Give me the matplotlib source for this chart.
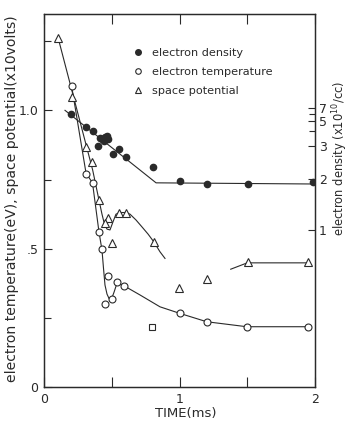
import numpy as np
import matplotlib
matplotlib.use("Agg")
import matplotlib.pyplot as plt
from matplotlib.ticker import FixedLocator, FixedFormatter
from matplotlib.lines import Line2D

# ---------------- data ----------------
# electron density (x10^10 /cc), right axis
dens_t = [0.199, 0.310, 0.359, 0.401, 0.413, 0.428, 0.450, 0.465, 0.476, 0.446,
          0.507, 0.556, 0.605, 0.807, 1.004, 1.201, 1.508, 1.987]
dens_n = [6.0, 4.36, 4.02, 3.0, 3.48, 3.46, 3.57, 3.67, 3.44, 3.33,
          2.73, 2.91, 2.62, 2.32, 1.95, 1.86, 1.86, 1.93]
dens_fit_t = [0.155, 0.827, 2.0]
dens_fit_n = [6.6, 1.90, 1.87]

# electron temperature (eV)
temp_t = [0.203, 0.310, 0.358, 0.404, 0.427, 0.469, 0.450, 0.500, 0.542, 0.594,
          1.004, 1.201, 1.496, 1.946]
temp_v = [1.090, 0.772, 0.738, 0.561, 0.498, 0.401, 0.299, 0.320, 0.381, 0.365,
          0.266, 0.236, 0.217, 0.217]
temp_odd_t = [0.797]
temp_odd_v = [0.218]
temp_fit_t = [0.204, 0.310, 0.358, 0.406, 0.428, 0.439, 0.450, 0.465, 0.480, 0.498,
              0.517, 0.539, 0.561, 0.594, 0.708, 0.856, 1.004, 1.201, 1.496, 1.951]
temp_fit_v = [1.088, 0.774, 0.738, 0.560, 0.495, 0.430, 0.369, 0.336, 0.320, 0.318,
              0.343, 0.376, 0.372, 0.365, 0.333, 0.290, 0.266, 0.236, 0.218, 0.218]

# space potential (x10 volts)
pot_t = [0.103, 0.204, 0.310, 0.357, 0.404, 0.472, 0.450, 0.500, 0.554, 0.605,
         0.812, 0.999, 1.205, 1.503, 1.946]
pot_v = [1.264, 1.050, 0.869, 0.815, 0.678, 0.610, 0.592, 0.522, 0.628, 0.628,
         0.525, 0.359, 0.390, 0.452, 0.452]
pot_fit1_t = [0.103, 0.359, 0.404, 0.428, 0.446, 0.465, 0.487, 0.509, 0.531, 0.561,
              0.605, 0.635, 0.679, 0.723, 0.768, 0.812, 0.856, 0.893]
pot_fit1_v = [1.265, 0.785, 0.680, 0.625, 0.589, 0.571, 0.568, 0.597, 0.625, 0.631,
              0.631, 0.625, 0.604, 0.579, 0.553, 0.524, 0.489, 0.465]
pot_fit2_t = [1.378, 1.500, 1.951]
pot_fit2_v = [0.426, 0.449, 0.449]

# axis ticks
left_ticks = [0, 0.5, 1.0]
left_labels = ["0", ".5", "1.0"]
left_minor = [0.25, 0.75, 1.25]
x_ticks = [0, 1, 2]
x_labels = ["0", "1", "2"]
x_minor = [0.5, 1.5]
right_ticks = [1, 2, 3, 5, 7]
right_labels = ["1", "2", "3", "5", "7"]
right_minor = [4, 6]
# calibration of the hand-drawn density scale (density -> left-axis height)
cal_n = [1e-3, 1, 2, 3, 4, 5, 6, 7, 1e3]
cal_pos = [-1.265, 0.568, 0.752, 0.871, 0.925, 0.962, 0.987, 1.009, 1.655]

# ---------------- figure ----------------
ink = "#2a2a2a"
plt.rcParams["font.family"] = ["DejaVu Sans"]
plt.rcParams["text.color"] = ink

fig = plt.figure(figsize=(3.52, 4.28), dpi=100)
ax = fig.add_axes([44/352, 41/428, 271/352, 373/428])
ax.set_xlim(0, 2)
ax.set_ylim(0, 1.349)

cal_l = np.log10(cal_n)


def fwd(n):
    n = np.clip(np.asarray(n, dtype=float), 1e-3, 1e3)
    return np.interp(np.log10(n), cal_l, cal_pos)


def inv(p):
    return 10 ** np.interp(np.asarray(p, dtype=float), cal_pos, cal_l)


ax2 = ax.twinx()
ax2.set_yscale("function", functions=(fwd, inv))
ax2.set_ylim(float(inv(0.0)), float(inv(1.349)))

lw = 0.8
# fit lines
ax.plot(temp_fit_t, temp_fit_v, color=ink, lw=lw, zorder=2)
ax.plot(pot_fit1_t, pot_fit1_v, color=ink, lw=lw, zorder=2)
ax.plot(pot_fit2_t, pot_fit2_v, color=ink, lw=lw, zorder=2)
ax2.plot(dens_fit_t, dens_fit_n, color=ink, lw=lw, zorder=2)

# markers
ax.plot(temp_t, temp_v, ls="none", marker="o", ms=5, mfc="white", mec=ink,
        mew=0.8, zorder=3)
ax.plot(temp_odd_t, temp_odd_v, ls="none", marker="s", ms=4, mfc="white",
        mec=ink, mew=0.8, zorder=3)
ax.plot(pot_t, pot_v, ls="none", marker="^", ms=6, mfc="white", mec=ink,
        mew=0.8, zorder=3)
ax2.plot(dens_t, dens_n, ls="none", marker="o", ms=4.5, mfc=ink, mec=ink,
         zorder=3)

# axes styling
for a in (ax, ax2):
    for s in a.spines.values():
        s.set_color(ink)
        s.set_linewidth(0.9)

ax.xaxis.set_major_locator(FixedLocator(x_ticks))
ax.xaxis.set_major_formatter(FixedFormatter(x_labels))
ax.xaxis.set_minor_locator(FixedLocator(x_minor))
ax.yaxis.set_major_locator(FixedLocator(left_ticks))
ax.yaxis.set_major_formatter(FixedFormatter(left_labels))
ax.yaxis.set_minor_locator(FixedLocator(left_minor))
ax.tick_params(axis="both", which="both", direction="in", colors=ink,
               labelsize=9, width=0.8)
ax.tick_params(axis="x", which="both", top=True, length=7, pad=4)
ax.tick_params(axis="y", which="major", length=6, pad=4)
ax.tick_params(axis="y", which="minor", length=5)

ax2.yaxis.set_major_locator(FixedLocator(right_ticks))
ax2.yaxis.set_major_formatter(FixedFormatter(right_labels))
ax2.yaxis.set_minor_locator(FixedLocator(right_minor))
ax2.tick_params(axis="y", which="both", direction="in", colors=ink,
                labelsize=9, width=0.8, pad=3)
ax2.tick_params(axis="y", which="major", length=5)
ax2.tick_params(axis="y", which="minor", length=4)

fig.text(186/352, 1 - 414/428, "TIME(ms)", ha="center", va="center",
         fontsize=9.5, color=ink)
fig.text(12/352, 1 - 199/428,
         "electron temperature(eV), space potential(x10volts)",
         rotation=90, ha="center", va="center", fontsize=10.1, color=ink)
fig.text(340/352, 1 - 158/428, r"electron density (x10$^{10}$/cc)",
         rotation=90, ha="center", va="center", fontsize=8.3, color=ink)

handles = [
    Line2D([], [], ls="none", marker="o", ms=4, mfc=ink, mec=ink),
    Line2D([], [], ls="none", marker="o", ms=4, mfc="white", mec=ink, mew=0.8),
    Line2D([], [], ls="none", marker="^", ms=5, mfc="white", mec=ink, mew=0.8),
]
labels = ["electron density", "electron temperature", "space potential"]
leg = ax.legend(handles, labels, loc="upper left",
                bbox_to_anchor=(132/352, 1 - 48/428),
                bbox_transform=fig.transFigure, frameon=False, fontsize=8.1,
                handlelength=1.0, handletextpad=0.8, labelspacing=0.8,
                borderpad=0, borderaxespad=0)
for t in leg.get_texts():
    t.set_color(ink)

fig.savefig("out.png", dpi=100)
